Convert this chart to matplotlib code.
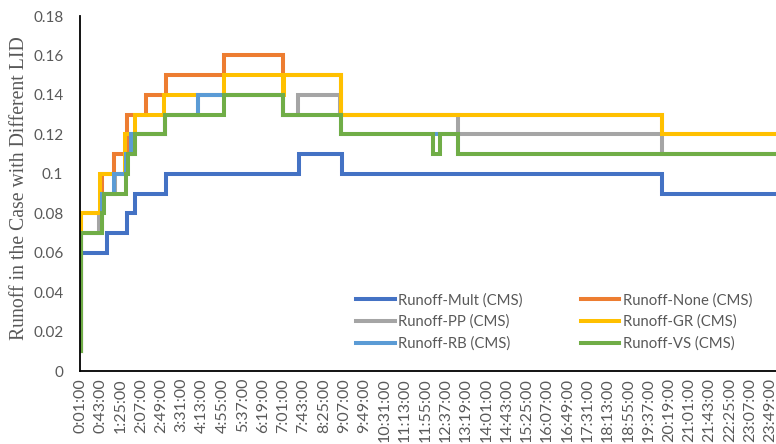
import matplotlib
matplotlib.use("Agg")
import matplotlib.pyplot as plt
from matplotlib.ticker import FixedLocator, FixedFormatter

# Step runoff series: minute at which each value begins, and the value (CMS)
mult_t = [1, 2, 56, 97, 115, 179, 454, 542, 1205]
mult_v = [0.01, 0.06, 0.07, 0.08, 0.09, 0.10, 0.11, 0.10, 0.09]

none_t = [1, 2, 46, 70, 97, 138, 178, 299, 421, 541, 1205]
none_v = [0.01, 0.08, 0.10, 0.11, 0.13, 0.14, 0.15, 0.16, 0.15, 0.13, 0.12]

pp_t = [1, 2, 39, 46, 73, 96, 115, 177, 244, 421, 452, 539, 782, 1205]
pp_v = [0.01, 0.07, 0.08, 0.09, 0.10, 0.11, 0.12, 0.13, 0.14, 0.13, 0.14, 0.13, 0.12, 0.11]

gr_t = [1, 2, 42, 94, 115, 175, 299, 421, 423, 541, 1205]
gr_v = [0.01, 0.08, 0.10, 0.12, 0.13, 0.14, 0.15, 0.14, 0.15, 0.13, 0.12]

rb_t = [1, 2, 46, 70, 95, 105, 176, 244, 421, 541, 783]
rb_v = [0.01, 0.07, 0.09, 0.10, 0.11, 0.12, 0.13, 0.14, 0.13, 0.12, 0.11]

vs_t = [1, 2, 46, 50, 96, 99, 115, 177, 299, 421, 541, 731, 745, 783]
vs_v = [0.01, 0.07, 0.08, 0.09, 0.10, 0.11, 0.12, 0.13, 0.14, 0.13, 0.12, 0.11, 0.12, 0.11]

series_names = ["Runoff-Mult (CMS)", "Runoff-None (CMS)", "Runoff-PP (CMS)",
                "Runoff-GR (CMS)", "Runoff-RB (CMS)", "Runoff-VS (CMS)"]
series_colors = ["#4472C4", "#ED7D31", "#A5A5A5", "#FFC000", "#5B9BD5", "#70AD47"]

last_minute = 1440  # 0:01 .. 24:00, one record per minute

tick_minutes = [1, 43, 85, 127, 169, 211, 253, 295, 337, 379, 421, 463, 505, 547,
                589, 631, 673, 715, 757, 799, 841, 883, 925, 967, 1009, 1051,
                1093, 1135, 1177, 1219, 1261, 1303, 1345, 1387, 1429]
tick_labels = ["0:01:00", "0:43:00", "1:25:00", "2:07:00", "2:49:00", "3:31:00",
               "4:13:00", "4:55:00", "5:37:00", "6:19:00", "7:01:00", "7:43:00",
               "8:25:00", "9:07:00", "9:49:00", "10:31:00", "11:13:00", "11:55:00",
               "12:37:00", "13:19:00", "14:01:00", "14:43:00", "15:25:00",
               "16:07:00", "16:49:00", "17:31:00", "18:13:00", "18:55:00",
               "19:37:00", "20:19:00", "21:01:00", "21:43:00", "22:25:00",
               "23:07:00", "23:49:00"]

y_ticks = [0, 0.02, 0.04, 0.06, 0.08, 0.1, 0.12, 0.14, 0.16, 0.18]
y_labels = ["0", "0.02", "0.04", "0.06", "0.08", "0.1", "0.12", "0.14", "0.16", "0.18"]

W, H, DPI = 776, 444, 100
fig = plt.figure(figsize=(W / DPI, H / DPI), dpi=DPI)
ax = fig.add_axes([80 / W, (H - 371) / H, (W - 80) / W, (371 - 16) / H])

all_series = [(mult_t, mult_v), (none_t, none_v), (pp_t, pp_v),
              (gr_t, gr_v), (rb_t, rb_v), (vs_t, vs_v)]
lines = []
for (t, v), name, col in zip(all_series, series_names, series_colors):
    xs = list(t) + [last_minute]
    ys = list(v) + [v[-1]]
    ln, = ax.plot(xs, ys, drawstyle="steps-post", color=col, lw=2.9,
                  solid_joinstyle="miter", label=name)
    lines.append(ln)

ax.set_xlim(0.5, last_minute + 0.5)
ax.set_ylim(0, 0.18)

grey = "#595959"
tick_font = "Lato"
ax.xaxis.set_major_locator(FixedLocator(tick_minutes))
ax.xaxis.set_major_formatter(FixedFormatter(tick_labels))
ax.yaxis.set_major_locator(FixedLocator(y_ticks))
ax.yaxis.set_major_formatter(FixedFormatter(y_labels))
ax.tick_params(axis="x", length=0, pad=5, labelsize=11.5, labelcolor=grey,
               labelrotation=90)
ax.tick_params(axis="y", length=0, pad=12, labelsize=11, labelcolor=grey)
for lbl in ax.get_xticklabels() + ax.get_yticklabels():
    lbl.set_fontfamily(tick_font)

for side in ("top", "right"):
    ax.spines[side].set_visible(False)
for side in ("left", "bottom"):
    ax.spines[side].set_color("black")
    ax.spines[side].set_linewidth(1.3)

fig.text(20 / W, 1 - 188 / H, "Runoff in the Case with Different LID",
         rotation=90, ha="center", va="center", color=grey,
         fontsize=14.2, family="Liberation Serif")

# two-column legend read across rows: Mult/None, PP/GR, RB/VS
order = [0, 2, 4, 1, 3, 5]
leg = ax.legend([lines[i] for i in order], [series_names[i] for i in order],
                ncol=2, loc="upper left",
                bbox_to_anchor=(356 / W, 1 - 293 / H),
                bbox_transform=fig.transFigure,
                frameon=False, fontsize=10.7, handlelength=2.6,
                handletextpad=0.25, columnspacing=3.9, labelspacing=0.5,
                borderpad=0, borderaxespad=0)
for txt in leg.get_texts():
    txt.set_color(grey)
    txt.set_fontfamily(tick_font)

fig.savefig("out.png", dpi=DPI)
